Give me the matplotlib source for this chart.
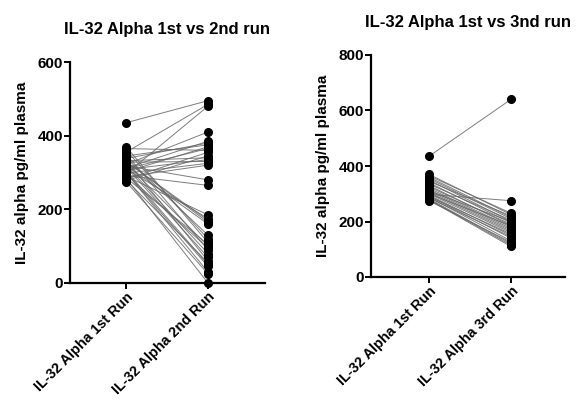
import matplotlib
matplotlib.use("Agg")
import matplotlib.pyplot as plt

plt.rcParams['font.family'] = ['Liberation Sans', 'DejaVu Sans']
plt.rcParams['font.weight'] = 'bold'

titles = ["IL-32 Alpha 1st vs 2nd run", "IL-32 Alpha 1st vs 3nd run"]
ylabel = "IL-32 alpha pg/ml plasma"
labels_left = ["IL-32 Alpha 1st Run", "IL-32 Alpha 2nd Run"]
labels_right = ["IL-32 Alpha 1st Run", "IL-32 Alpha 3rd Run"]

run1_a = [435, 370, 365, 360, 355, 350, 345, 340, 338, 335, 332, 330, 328, 325,
          322, 320, 318, 315, 312, 310, 308, 305, 302, 300, 298, 295, 292, 290,
          288, 285, 282, 280, 278, 275, 300, 310, 320, 330, 296, 286]
run2 = [495, 110, 360, 120, 485, 90, 375, 130, 380, 60, 340, 165, 330, 100,
        410, 80, 280, 70, 385, 175, 335, 50, 370, 30, 325, 95, 265, 185,
        320, 0, 355, 55, 345, 25, 45, 365, 160, 170, 480, 105]

run1_b = [435, 370, 365, 360, 355, 350, 345, 340, 335, 330, 325, 320, 315, 310,
          305, 300, 298, 295, 292, 290, 288, 285, 282, 280, 278, 275, 300, 310]
run3 = [640, 225, 230, 215, 210, 200, 220, 195, 205, 185, 190, 180, 175, 170,
        165, 160, 275, 150, 140, 155, 130, 145, 120, 115, 110, 125, 185, 200]

fig = plt.figure(figsize=(5.76, 4.0), dpi=100)
ax1 = fig.add_axes([0.1215, 0.2925, 0.3385, 0.5525])
ax2 = fig.add_axes([0.644, 0.3075, 0.337, 0.555])

def draw(ax, a, b, ymax, step, labels, title, xl):
    for va, vb in zip(a, b):
        ax.plot([0, 1], [va, vb], color='#666666', lw=0.7, alpha=0.85, zorder=2)
    ax.plot([0] * len(a), a, 'o', color='black', ms=5.5, zorder=3, clip_on=False)
    ax.plot([1] * len(b), b, 'o', color='black', ms=5.5, zorder=3, clip_on=False)
    ax.set_ylim(0, ymax)
    ax.set_xlim(*xl)
    ax.set_yticks(range(0, ymax + 1, step))
    ax.set_xticks([0, 1])
    ax.set_xticklabels(labels, rotation=45, ha='right', rotation_mode='anchor',
                       fontsize=10.3, fontweight='bold')
    for t in ax.get_yticklabels():
        t.set_fontsize(11)
        t.set_fontweight('bold')
    ax.spines['top'].set_visible(False)
    ax.spines['right'].set_visible(False)
    ax.spines['left'].set_linewidth(1.6)
    ax.spines['bottom'].set_linewidth(1.6)
    ax.tick_params(width=1.4, length=4, direction='out', pad=1)
    ax.set_ylabel(ylabel, fontsize=11, fontweight='bold', labelpad=6)
    ax.set_title(title, fontsize=12, fontweight='bold', pad=20)

draw(ax1, run1_a, run2, 600, 200, labels_left, titles[0], (-0.683, 1.695))
draw(ax2, run1_b, run3, 800, 200, labels_right, titles[1], (-0.707, 1.66))

fig.savefig("out.png", dpi=100)
